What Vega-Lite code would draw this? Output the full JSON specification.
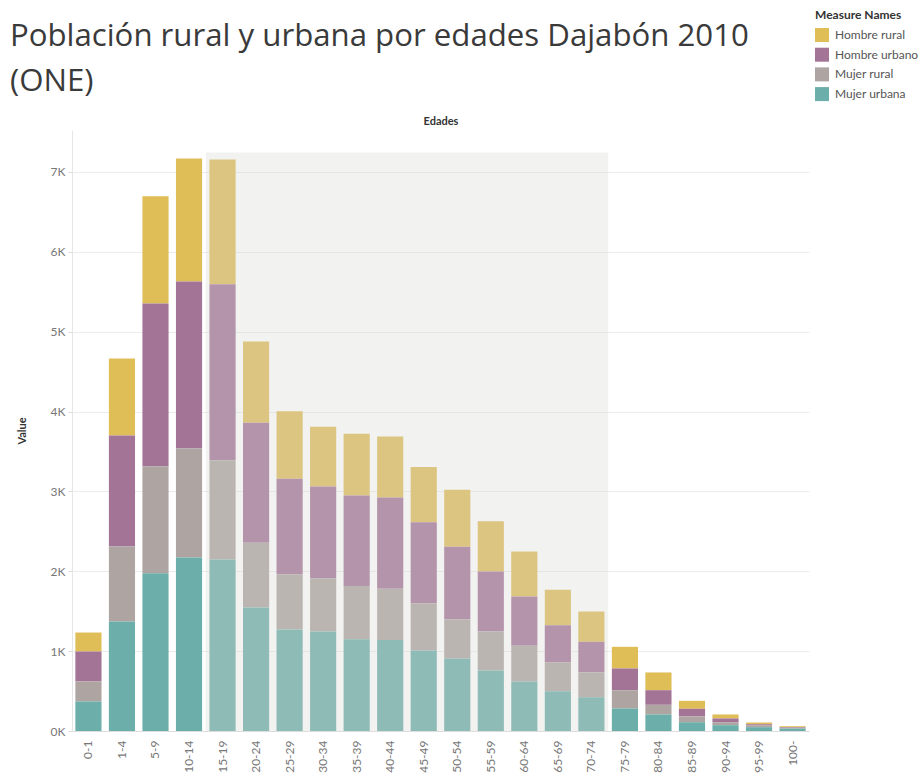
{
  "$schema": "https://vega.github.io/schema/vega-lite/v6.json",
  "autosize": "none",
  "width": 737,
  "height": 601,
  "padding": {"left": 72, "top": 130, "right": 113, "bottom": 47},
  "background": "white",
  "config": {"font": "Lato", "view": {"stroke": null}},
  "title": {
    "text": ["Población rural y urbana por edades Dajabón 2010", "(ONE)"],
    "anchor": "start",
    "frame": "group",
    "dx": -62,
    "offset": -87,
    "fontSize": 31.2,
    "fontWeight": "normal",
    "font": "Open Sans",
    "color": "#3a3a3a",
    "lineHeight": 45
  },
  "data": {
    "values": [
      {"Edades": "0-1", "Hombre rural": 238, "Hombre urbano": 375, "Mujer rural": 250, "Mujer urbana": 370},
      {"Edades": "1-4", "Hombre rural": 964, "Hombre urbano": 1390, "Mujer rural": 939, "Mujer urbana": 1371},
      {"Edades": "5-9", "Hombre rural": 1344, "Hombre urbano": 2037, "Mujer rural": 1340, "Mujer urbana": 1976},
      {"Edades": "10-14", "Hombre rural": 1540, "Hombre urbano": 2092, "Mujer rural": 1364, "Mujer urbana": 2173},
      {"Edades": "15-19", "Hombre rural": 1561, "Hombre urbano": 2204, "Mujer rural": 1244, "Mujer urbana": 2147},
      {"Edades": "20-24", "Hombre rural": 1018, "Hombre urbano": 1502, "Mujer rural": 811, "Mujer urbana": 1546},
      {"Edades": "25-29", "Hombre rural": 847, "Hombre urbano": 1194, "Mujer rural": 693, "Mujer urbana": 1271},
      {"Edades": "30-34", "Hombre rural": 747, "Hombre urbano": 1148, "Mujer rural": 668, "Mujer urbana": 1246},
      {"Edades": "35-39", "Hombre rural": 772, "Hombre urbano": 1135, "Mujer rural": 664, "Mujer urbana": 1150},
      {"Edades": "40-44", "Hombre rural": 764, "Hombre urbano": 1143, "Mujer rural": 643, "Mujer urbana": 1138},
      {"Edades": "45-49", "Hombre rural": 689, "Hombre urbano": 1018, "Mujer rural": 589, "Mujer urbana": 1008},
      {"Edades": "50-54", "Hombre rural": 714, "Hombre urbano": 910, "Mujer rural": 488, "Mujer urbana": 908},
      {"Edades": "55-59", "Hombre rural": 630, "Hombre urbano": 747, "Mujer rural": 492, "Mujer urbana": 758},
      {"Edades": "60-64", "Hombre rural": 564, "Hombre urbano": 617, "Mujer rural": 447, "Mujer urbana": 620},
      {"Edades": "65-69", "Hombre rural": 443, "Hombre urbano": 467, "Mujer rural": 360, "Mujer urbana": 498},
      {"Edades": "70-74", "Hombre rural": 379, "Hombre urbano": 384, "Mujer rural": 310, "Mujer urbana": 423},
      {"Edades": "75-79", "Hombre rural": 271, "Hombre urbano": 272, "Mujer rural": 229, "Mujer urbana": 282},
      {"Edades": "80-84", "Hombre rural": 222, "Hombre urbano": 183, "Mujer rural": 121, "Mujer urbana": 207},
      {"Edades": "85-89", "Hombre rural": 100, "Hombre urbano": 96, "Mujer rural": 72, "Mujer urbana": 110},
      {"Edades": "90-94", "Hombre rural": 50, "Hombre urbano": 51, "Mujer rural": 33, "Mujer urbana": 73},
      {"Edades": "95-99", "Hombre rural": 21, "Hombre urbano": 16, "Mujer rural": 21, "Mujer urbana": 48},
      {"Edades": "100-", "Hombre rural": 12, "Hombre urbano": 8, "Mujer rural": 10, "Mujer urbana": 30}
    ]
  },
  "layer": [
    {
      "transform": [
        {"fold": ["Hombre rural", "Hombre urbano", "Mujer rural", "Mujer urbana"], "as": ["Measure", "Value"]}
      ],
      "mark": {"type": "bar"},
      "encoding": {
        "x": {
          "field": "Edades",
          "type": "nominal",
          "scale": {
            "domain": ["0-1", "1-4", "5-9", "10-14", "15-19", "20-24", "25-29", "30-34", "35-39", "40-44", "45-49", "50-54", "55-59", "60-64", "65-69", "70-74", "75-79", "80-84", "85-89", "90-94", "95-99", "100-"],
            "paddingInner": 0.22,
            "paddingOuter": 0.1
          },
          "axis": {
            "orient": "bottom",
            "title": null,
            "labelAngle": -90,
            "labelAlign": "right",
            "labelBaseline": "middle",
            "labelFontSize": 12,
            "labelColor": "#777777",
            "labelPadding": 9,
            "ticks": false,
            "domainColor": "#dddddd",
            "grid": false
          }
        },
        "y": {
          "field": "Value",
          "type": "quantitative",
          "stack": "zero",
          "title": "Value",
          "scale": {"domain": [0, 7525], "nice": false},
          "axis": {
            "title": "Value",
            "titleFontSize": 11,
            "titleFontWeight": "bold",
            "titleColor": "#333333",
            "titlePadding": 23,
            "values": [0, 1000, 2000, 3000, 4000, 5000, 6000, 7000],
            "labelExpr": "(datum.value / 1000) + 'K'",
            "labelFontSize": 12,
            "labelColor": "#777777",
            "labelPadding": 3,
            "tickSize": 4,
            "tickColor": "#dddddd",
            "domainColor": "#e6e6e6",
            "grid": true,
            "gridColor": "#ececec"
          }
        },
        "color": {
          "field": "Measure",
          "type": "nominal",
          "scale": {
            "domain": ["Hombre rural", "Hombre urbano", "Mujer rural", "Mujer urbana"],
            "range": ["#dfbd57", "#a37496", "#aea5a2", "#6caea9"]
          },
          "legend": {
            "orient": "none",
            "legendX": 743,
            "legendY": -120,
            "title": "Measure Names",
            "titleFontSize": 12,
            "titleFontWeight": "bold",
            "titleColor": "#333333",
            "titlePadding": 6,
            "labelFontSize": 12,
            "labelColor": "#555555",
            "labelOffset": 6,
            "symbolType": "square",
            "symbolSize": 196,
            "symbolStrokeWidth": 0,
            "symbolOpacity": 1,
            "rowPadding": 5.7
          }
        },
        "order": {"field": "Measure", "sort": "descending"}
      }
    },
    {
      "transform": [
        {"filter": {"field": "Edades", "oneOf": ["15-19", "20-24", "25-29", "30-34", "35-39", "40-44", "45-49", "50-54", "55-59", "60-64", "65-69", "70-74"]}}
      ],
      "mark": {"type": "bar", "width": {"band": 1.2821}, "color": "#d8d8d4", "opacity": 0.33},
      "encoding": {
        "x": {
          "field": "Edades",
          "type": "nominal",
          "scale": {
            "domain": ["0-1", "1-4", "5-9", "10-14", "15-19", "20-24", "25-29", "30-34", "35-39", "40-44", "45-49", "50-54", "55-59", "60-64", "65-69", "70-74", "75-79", "80-84", "85-89", "90-94", "95-99", "100-"],
            "paddingInner": 0.22,
            "paddingOuter": 0.1
          },
          "axis": {
            "orient": "top",
            "title": "Edades",
            "titleFontSize": 11,
            "titleFontWeight": "bold",
            "titleColor": "#333333",
            "titlePadding": 4,
            "labels": false,
            "ticks": false,
            "domain": false,
            "grid": false
          }
        },
        "y": {
          "datum": 7244,
          "type": "quantitative",
          "title": "Value",
          "axis": {
            "title": "Value",
            "titleFontSize": 11,
            "titleFontWeight": "bold",
            "titleColor": "#333333",
            "titlePadding": 23,
            "values": [0, 1000, 2000, 3000, 4000, 5000, 6000, 7000],
            "labelExpr": "(datum.value / 1000) + 'K'",
            "labelFontSize": 12,
            "labelColor": "#777777",
            "labelPadding": 3,
            "tickSize": 4,
            "tickColor": "#dddddd",
            "domainColor": "#e6e6e6",
            "grid": true,
            "gridColor": "#ececec"
          }
        }
      }
    }
  ]
}
